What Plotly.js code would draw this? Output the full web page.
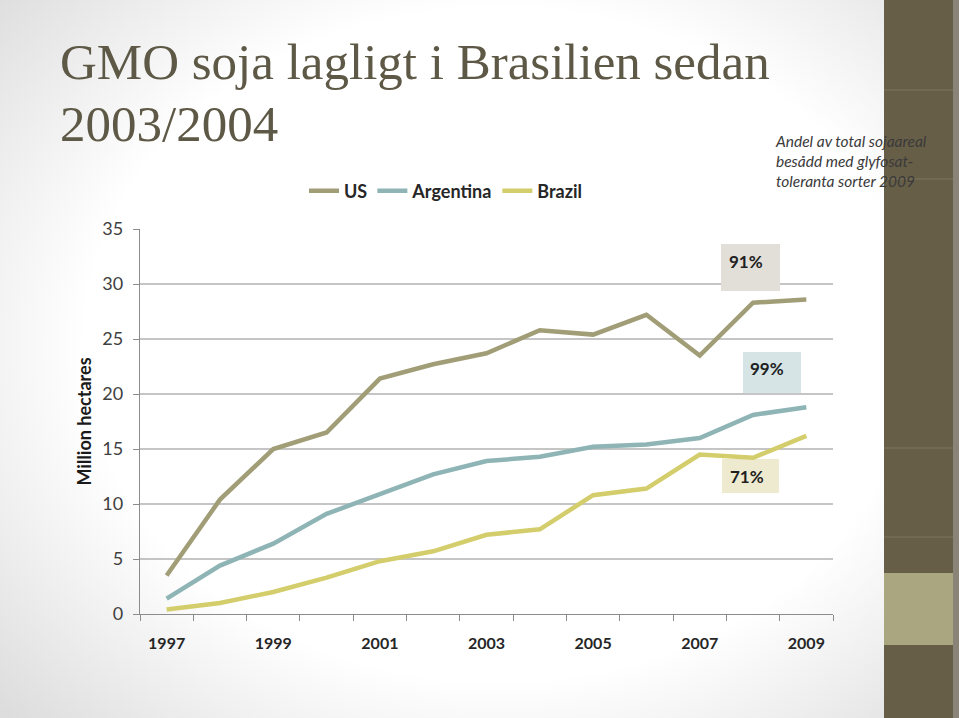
<!DOCTYPE html>
<html>
<head>
<meta charset="utf-8">
<script src="https://cdn.plot.ly/plotly-3.0.1.min.js"></script>
<style>
  html, body { margin: 0; padding: 0; }
  body {
    width: 959px; height: 718px; overflow: hidden;
    background: radial-gradient(ellipse 72% 78% at 52% 48%, #ffffff 60%, #dadada 100%);
  }
  #chart { width: 959px; height: 718px; }
</style>
</head>
<body>
<div id="chart"></div>
<script>
// ---- data ----
const years = [1997, 1998, 1999, 2000, 2001, 2002, 2003, 2004, 2005, 2006, 2007, 2008, 2009];
const usValues        = [3.5, 10.4, 15.0, 16.5, 21.4, 22.7, 23.7, 25.8, 25.4, 27.2, 23.5, 28.3, 28.6];
const argentinaValues = [1.4, 4.4, 6.4, 9.1, 10.9, 12.7, 13.9, 14.3, 15.2, 15.4, 16.0, 18.1, 18.8];
const brazilValues    = [0.4, 1.0, 2.0, 3.3, 4.8, 5.7, 7.2, 7.7, 10.8, 11.4, 14.5, 14.2, 16.2];
const seriesNames = ['US', 'Argentina', 'Brazil'];
const xTickLabels = [1997, 1999, 2001, 2003, 2005, 2007, 2009];
const yTickValues = [0, 5, 10, 15, 20, 25, 30, 35];
const gridValues  = [5, 10, 15, 20, 25, 30];
const shareLabels = ['91%', '99%', '71%'];
const titleLines = ['GMO soja lagligt i Brasilien sedan', '2003/2004'];
const noteText = 'Andel av total sojaareal<br>besådd med glyfosat-<br>toleranta sorter 2009';
const yTitle = 'Million hectares';

// ---- helpers (pixel -> paper, full-page paper) ----
const W = 959, H = 718;
const px = v => v / W;
const py = v => 1 - v / H;

const colors = ['#A19E77', '#8FB4B5', '#D4CD6C'];
const seriesData = [usValues, argentinaValues, brazilValues];

const traces = seriesNames.map((n, i) => ({
  type: 'scatter', mode: 'lines', name: n,
  x: years, y: seriesData[i],
  line: { color: colors[i], width: 4.5 },
  hoverinfo: 'skip'
}));

const shapes = [];
// right decorative bar
shapes.push({ type: 'rect', xref: 'paper', yref: 'paper', x0: px(884), x1: px(953), y0: py(718), y1: py(0), fillcolor: '#675E47', line: { width: 0 }, layer: 'below' });
shapes.push({ type: 'rect', xref: 'paper', yref: 'paper', x0: px(953), x1: px(959), y0: py(718), y1: py(0), fillcolor: '#8A8478', line: { width: 0 }, layer: 'below' });
shapes.push({ type: 'rect', xref: 'paper', yref: 'paper', x0: px(884), x1: px(953), y0: py(645), y1: py(573), fillcolor: '#A9A680', line: { width: 0 }, layer: 'below' });
[90, 179, 448, 537].forEach(yy => shapes.push({ type: 'line', xref: 'paper', yref: 'paper', x0: px(884), x1: px(953), y0: py(yy), y1: py(yy), line: { color: '#7C745F', width: 1 }, layer: 'below' }));
// gridlines
gridValues.forEach(v => shapes.push({ type: 'line', xref: 'x domain', yref: 'y', x0: 0, x1: 1, y0: v, y1: v, line: { color: '#8C8C8C', width: 1.2 }, layer: 'below' }));
// share boxes
const boxes = [
  { x0: 721, x1: 780, y0: 244, y1: 291, fill: '#E2DED8', tx: 746, ty: 261 },
  { x0: 743, x1: 801, y0: 352, y1: 393, fill: '#D6E4E6', tx: 767, ty: 368 },
  { x0: 722, x1: 779, y0: 459, y1: 493, fill: '#EEEAD0', tx: 747, ty: 476 }
];
boxes.forEach(b => shapes.push({ type: 'rect', xref: 'paper', yref: 'paper', x0: px(b.x0), x1: px(b.x1), y0: py(b.y1), y1: py(b.y0), fillcolor: b.fill, line: { width: 0 }, layer: 'below' }));

const annotations = boxes.map((b, i) => ({
  xref: 'paper', yref: 'paper', x: px(b.tx), y: py(b.ty), showarrow: false,
  text: shareLabels[i], font: { family: 'Lato, sans-serif', size: 17, color: '#1F1F1F', weight: 'bold' },
  xanchor: 'center', yanchor: 'middle'
}));
annotations.push({
  xref: 'paper', yref: 'paper', x: px(773), y: py(130), showarrow: false,
  text: noteText, align: 'left', xanchor: 'left', yanchor: 'top',
  font: { family: 'Lato, sans-serif', size: 15.5, color: '#3A3A3A', style: 'italic' }
});
// title lines
const titleY = [62, 124];
titleLines.forEach((t, i) => annotations.push({
  xref: 'paper', yref: 'paper', x: px(58), y: py(titleY[i]), showarrow: false,
  text: t, xanchor: 'left', yanchor: 'middle', align: 'left',
  font: { family: 'Liberation Serif, serif', size: 51, color: '#5E5946' }
}));

const layout = {
  width: W, height: H,
  margin: { l: 0, r: 0, t: 0, b: 0, pad: 0 },
  paper_bgcolor: 'rgba(0,0,0,0)', plot_bgcolor: 'rgba(0,0,0,0)',
  showlegend: true,
  legend: {
    orientation: 'h', x: px(304), xanchor: 'left', y: py(191), yanchor: 'middle',
    font: { family: 'Lato, sans-serif', size: 18, color: '#262626', weight: 'bold' },
    bgcolor: 'rgba(0,0,0,0)', itemwidth: 30, tracegroupgap: 0
  },
  xaxis: {
    domain: [px(140), px(833)], range: [1996.5, 2009.5], type: 'linear',
    tickvals: xTickLabels, ticktext: xTickLabels.map(String), ticks: '', ticklabelstandoff: 15,
    minor: { ticks: 'outside', tick0: 1996.5, dtick: 1, ticklen: 6, tickcolor: '#8C8C8C', tickwidth: 1, showgrid: false },
    showline: true, linecolor: '#8C8C8C', linewidth: 1.2, showgrid: false, zeroline: false,
    tickfont: { family: 'Lato, sans-serif', size: 16, color: '#262626', weight: 'bold' },
    fixedrange: true
  },
  yaxis: {
    domain: [1 - 614 / H, 1 - 229 / H], range: [0, 35],
    tickvals: yTickValues, ticks: 'outside', ticklen: 6, tickcolor: '#8C8C8C', ticklabelstandoff: 6,
    showline: true, linecolor: '#8C8C8C', linewidth: 1.2, showgrid: false, zeroline: false,
    tickfont: { family: 'Lato, sans-serif', size: 18, color: '#404040' },
    title: { text: yTitle, standoff: 6, font: { family: 'Lato, sans-serif', size: 18, color: '#1A1A1A', weight: 'bold' } },
    fixedrange: true
  },
  shapes: shapes,
  annotations: annotations
};

Plotly.newPlot('chart', traces, layout, { displayModeBar: false, staticPlot: true });
</script>
</body>
</html>
